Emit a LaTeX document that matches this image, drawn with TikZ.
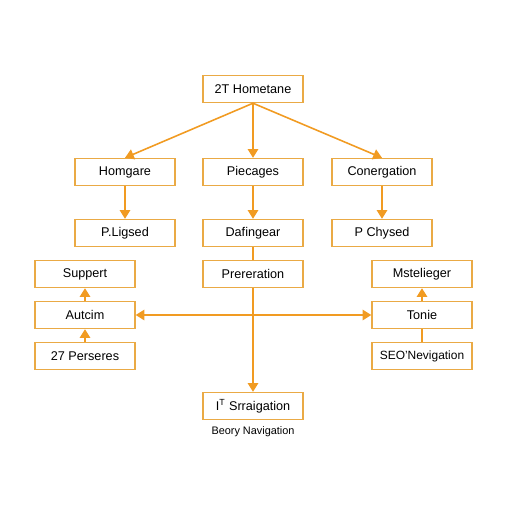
\documentclass[tikz,border=0pt]{standalone}
\usepackage{fontspec}
\setmainfont{Liberation Sans}
\usetikzlibrary{arrows.meta}
\definecolor{boxline}{HTML}{EAAA45}
\definecolor{arrowline}{HTML}{F19B22}
\tikzset{
  box/.style={draw=boxline, line width=0.8pt, minimum width=2cm, minimum height=0.54cm,
    inner sep=0pt, font=\fontsize{7.2}{9}\selectfont},
  link/.style={draw=arrowline, line width=0.9pt, -{Triangle[length=5pt,width=6pt]}},
  plain/.style={draw=arrowline, line width=0.9pt}
}
\begin{document}
\begin{tikzpicture}[x=0.02cm,y=-0.02cm]
\useasboundingbox (0,0) rectangle (512,512);

\node[box] (hometane) at (253,89) {2T Hometane};

\node[box] (homgare) at (125,172) {Homgare};
\node[box] (piecages) at (253,172) {Piecages};
\node[box] (conerg) at (382,172) {Conergation};

\node[box] (ligsed) at (125,233) {P.Ligsed};
\node[box] (dafing) at (253,233) {Dafingear};
\node[box] (chysed) at (382,233) {P Chysed};

\node[box] (suppert) at (85,274) {Suppert};
\node[box] (prerer) at (253,274) {Prereration};
\node[box] (mstel) at (422,274) {Mstelieger};

\node[box] (autcim) at (85,315) {Autcim};
\node[box] (tonie) at (422,315) {Tonie};

\node[box] (perseres) at (85,356) {27 Perseres};
\node[box, font=\fontsize{6.8}{9}\selectfont] (seonav) at (422,356) {SEO'Nevigation};

\node[box] (srraig) at (253,406) {I\textsuperscript{T} Srraigation};
\node[font=\fontsize{6.2}{8}\selectfont] (beory) at (253,432) {Beory Navigation};

% top level
\draw[link] (hometane.south) -- (homgare.north);
\draw[link] (hometane.south) -- (piecages.north);
\draw[link] (hometane.south) -- (conerg.north);

% second level
\draw[link] (homgare) -- (ligsed);
\draw[link] (piecages) -- (dafing);
\draw[link] (conerg) -- (chysed);

% middle column
\draw[plain] (dafing) -- (prerer);
\draw[link] (prerer) -- (srraig);
\draw[link, {Triangle[length=5pt,width=6pt]}-{Triangle[length=5pt,width=6pt]}] (autcim) -- (tonie);

% side columns
\draw[link] (autcim) -- (suppert);
\draw[link] (perseres) -- (autcim);
\draw[link] (tonie) -- (mstel);
\draw[plain] (seonav) -- (tonie);
\end{tikzpicture}
\end{document}
